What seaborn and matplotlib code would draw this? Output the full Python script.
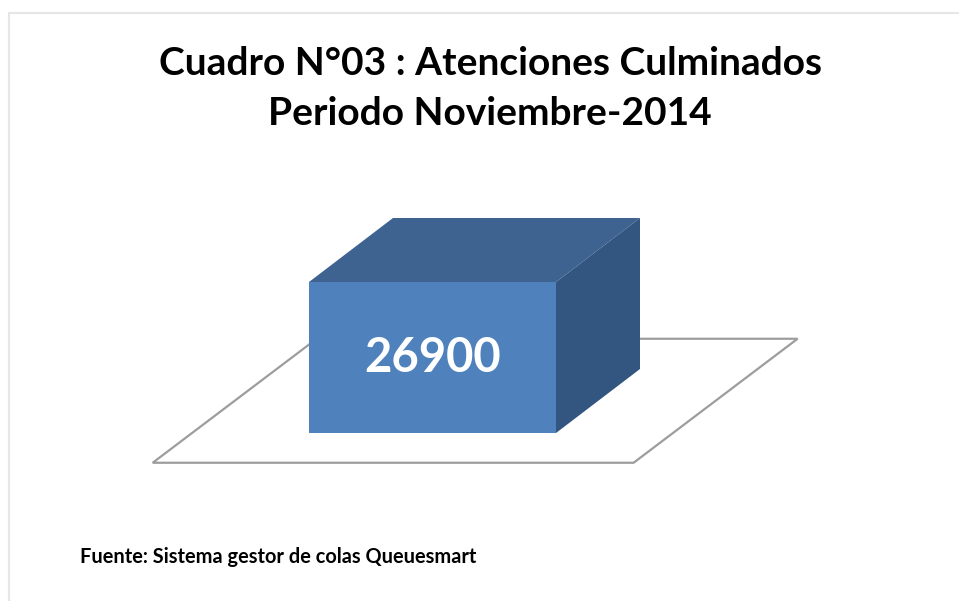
import numpy as np
import pandas as pd
import matplotlib
matplotlib.use("Agg")
import matplotlib.pyplot as plt
import seaborn as sns
from matplotlib.patches import Polygon
from matplotlib.lines import Line2D
from matplotlib.transforms import IdentityTransform

# ---- data ----
categories = ["Noviembre-2014"]
values = [26900]
title_lines = ["Cuadro N°03 : Atenciones Culminados", "Periodo Noviembre-2014"]
source_text = "Fuente: Sistema gestor de colas Queuesmart"

# ---- style / layout (pixels) ----
W, H, DPI = 959, 601, 100
FRONT = "#4F81BD"
TOP = "#3E6391"
SIDE = "#335681"
FLOOR_EDGE = "#9d9d9d"
BAR_LEFT_PX, BAR_RIGHT_PX = 309, 556       # front face horizontal span
BAR_BASE_PX, BAR_TOP_PX = 168, 319         # from bottom of figure
BAR_DEPTH = (84, 64)                       # oblique depth of bar (px)
FLOOR_DEPTH = (164, 124)                   # oblique depth of floor (px)
BAR_DEPTH_START = 0.24                     # bar front position in floor depth
FLOOR_HALF = 1.947                         # floor half-width / bar half-width

sns.set_theme(style="white")
plt.rcParams["font.family"] = ["Lato", "DejaVu Sans"]

fig = plt.figure(figsize=(W / DPI, H / DPI), dpi=DPI)
fig.patch.set_facecolor("white")
ax = fig.add_axes([0, 0, 1, 1])
ax.set_facecolor("none")

df = pd.DataFrame({"periodo": categories, "atenciones": values})
sns.barplot(data=df, x="periodo", y="atenciones", color=FRONT, saturation=1,
            width=0.8, linewidth=0, ax=ax, zorder=3)

# axis limits so the bar lands at the reference position
xscale = (BAR_RIGHT_PX - BAR_LEFT_PX) / 0.8
x0 = -0.4 - BAR_LEFT_PX / xscale
ax.set_xlim(x0, x0 + W / xscale)
yscale = max(values) / (BAR_TOP_PX - BAR_BASE_PX)
ax.set_ylim(-BAR_BASE_PX * yscale, (H - BAR_BASE_PX) * yscale)
ax.axis("off")

ident = IdentityTransform()
for bar in ax.patches:
    (L, B), (R, T) = ax.transData.transform(
        [(bar.get_x(), bar.get_y()), (bar.get_x() + bar.get_width(), bar.get_y() + bar.get_height())])
    dx, dy = BAR_DEPTH
    # floor
    fx, fy = FLOOR_DEPTH
    cx = (L + R) / 2
    half = (R - L) / 2 * FLOOR_HALF
    ox, oy = -BAR_DEPTH_START * fx, -BAR_DEPTH_START * fy
    floor = [(cx - half + ox, B + oy), (cx + half + ox, B + oy),
             (cx + half + ox + fx, B + oy + fy), (cx - half + ox + fx, B + oy + fy)]
    ax.add_patch(Polygon(floor, closed=True, facecolor="white", edgecolor=FLOOR_EDGE,
                         lw=1.6, transform=ident, zorder=1))
    # top & side faces
    ax.add_patch(Polygon([(L, T), (L + dx, T + dy), (R + dx, T + dy), (R, T)], closed=True,
                         facecolor=TOP, edgecolor="none", transform=ident, zorder=2))
    ax.add_patch(Polygon([(R, B), (R, T), (R + dx, T + dy), (R + dx, B + dy)], closed=True,
                         facecolor=SIDE, edgecolor="none", transform=ident, zorder=2))

ax.bar_label(ax.containers[0], labels=[f"{v}" for v in values], label_type="center",
             color="white", fontsize=34, fontweight="bold", zorder=5)

# titles
fig.text(490 / W, 1 - 75 / H, title_lines[0], ha="center", va="baseline",
         fontsize=28, fontweight="bold", color="black")
fig.text(490 / W, 1 - 125 / H, title_lines[1], ha="center", va="baseline",
         fontsize=28, fontweight="bold", color="black")
fig.text(80 / W, 1 - 563 / H, source_text, ha="left", va="baseline",
         fontsize=14.4, fontweight="bold", color="black")

# light frame
fig.add_artist(Line2D([9 / W, 1], [1 - 12.5 / H, 1 - 12.5 / H], transform=fig.transFigure,
                      color="#e6e6e6", lw=1.5))
fig.add_artist(Line2D([9 / W, 9 / W], [0, 1 - 12.5 / H], transform=fig.transFigure,
                      color="#e6e6e6", lw=1.5))

fig.savefig("out.png", dpi=DPI, facecolor="white")
